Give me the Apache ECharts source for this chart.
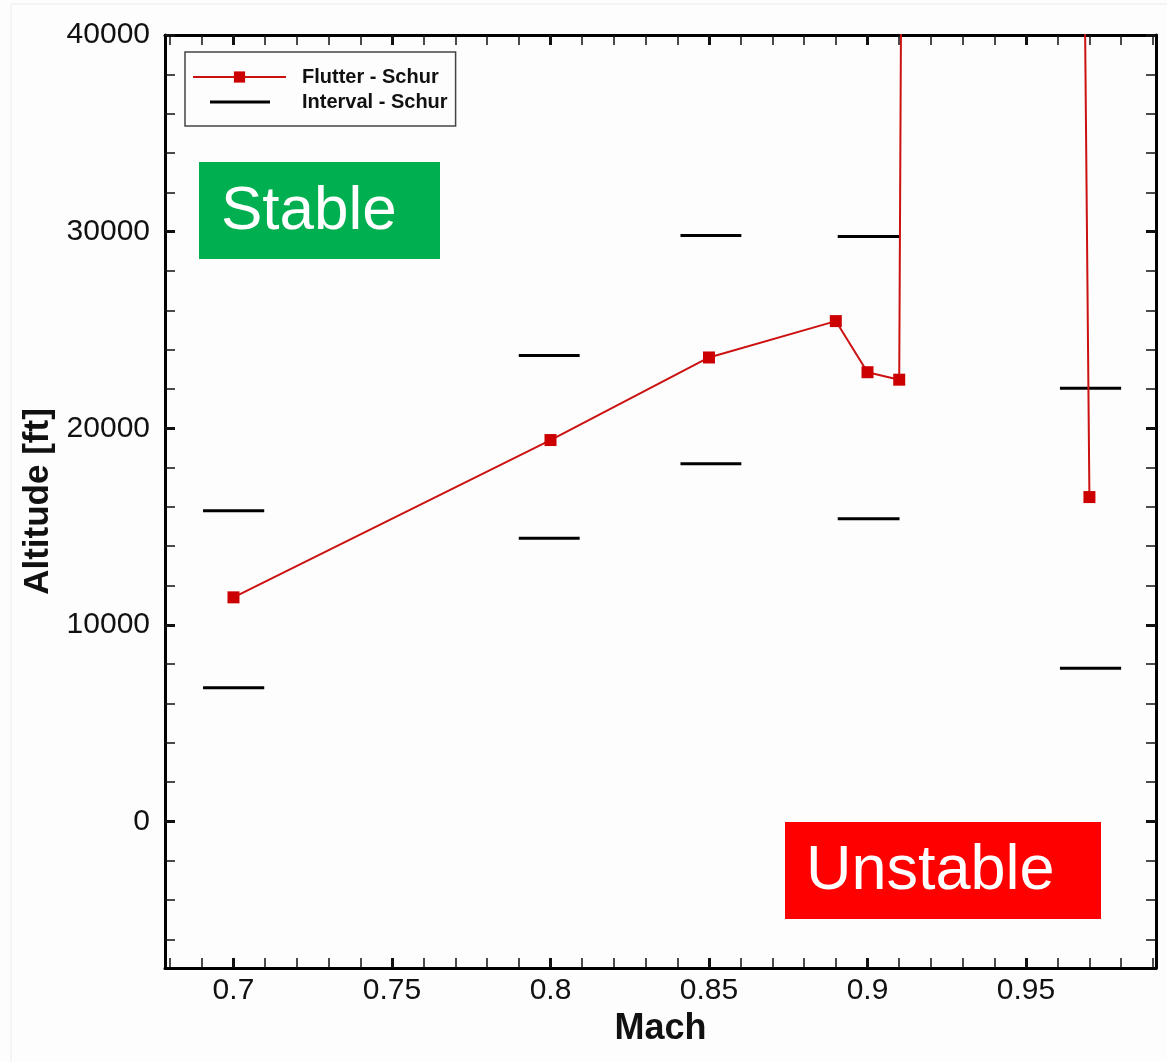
<!DOCTYPE html>
<html>
<head>
<meta charset="utf-8">
<script src="https://cdn.jsdelivr.net/npm/echarts@6/dist/echarts.min.js"></script>
<style>html,body{margin:0;padding:0;background:#fdfdfd;}#c{width:1167px;height:1062px;}</style>
</head>
<body>
<div id="c"></div>
<script>
// ---- data ----
const flutterMach = [0.70, 0.80, 0.85, 0.89, 0.90, 0.91, 0.9124, 0.9652, 0.97];
const flutterAlt  = [11400, 19400, 23600, 25450, 22850, 22470, 100000, 100000, 16500];

const intervalStart = [0.6904, 0.7900, 0.8410, 0.8906, 0.9607];
const intervalEnd   = [0.7097, 0.8092, 0.8602, 0.9101, 0.9800];
const intervalUpper = [15800, 23700, 29800, 29750, 22030];
const intervalLower = [6800, 14400, 18200, 15400, 7800];

const xMajorTicks = [0.7, 0.75, 0.8, 0.85, 0.9, 0.95];
const xMinorTicks = [0.68, 0.69, 0.71, 0.72, 0.73, 0.74, 0.76, 0.77, 0.78, 0.79, 0.81, 0.82, 0.83, 0.84,
                     0.86, 0.87, 0.88, 0.89, 0.91, 0.92, 0.93, 0.94, 0.96, 0.97, 0.98, 0.99];
const yMajorTicks = [0, 10000, 20000, 30000, 40000];
const yMinorTicks = [-6000, -4000, -2000, 2000, 4000, 6000, 8000, 12000, 14000, 16000, 18000,
                     22000, 24000, 26000, 28000, 32000, 34000, 36000, 38000];

const seriesNames = ['Flutter - Schur', 'Interval - Schur'];

// ---- build ----
const flutterData = flutterMach.map((m, i) => [m, flutterAlt[i]]);
const intervalData = [];
intervalStart.forEach((s, i) => {
  intervalData.push([s, intervalUpper[i]], [intervalEnd[i], intervalUpper[i]], [s, '-']);
  intervalData.push([s, intervalLower[i]], [intervalEnd[i], intervalLower[i]], [s, '-']);
});

const X_MIN = 0.6784, X_MAX = 0.991, Y_MIN = -7450, Y_MAX = 40000;
const FONT = 'Liberation Sans, Arial, sans-serif';

function xAx(pos, major, showLine, showLabel) {
  return {
    type: 'value', position: pos, min: X_MIN, max: X_MAX,
    splitLine: { show: false },
    axisLine: { show: showLine, onZero: false, lineStyle: { color: '#000', width: 3 } },
    axisTick: { show: true, inside: true, length: 10, customValues: major ? xMajorTicks : xMinorTicks,
                lineStyle: { color: '#111', width: major ? 3 : 1.5 } },
    axisLabel: { show: showLabel, customValues: xMajorTicks, fontSize: 30, color: '#111', fontFamily: FONT, margin: 8,
                 formatter: v => String(v) },
    name: showLabel ? 'Mach' : '', nameLocation: 'middle', nameGap: 30,
    nameTextStyle: { fontSize: 36, fontWeight: 'bold', color: '#111', fontFamily: FONT }
  };
}
function yAx(pos, major, showLine, showLabel) {
  return {
    type: 'value', position: pos, min: Y_MIN, max: Y_MAX,
    splitLine: { show: false },
    axisLine: { show: showLine, onZero: false, lineStyle: { color: '#000', width: 3 } },
    axisTick: { show: true, inside: true, length: 10, customValues: major ? yMajorTicks : yMinorTicks,
                lineStyle: { color: '#111', width: major ? 3 : 1.5 } },
    axisLabel: { show: showLabel, customValues: yMajorTicks, fontSize: 30, color: '#111', fontFamily: FONT, margin: 15,
                 formatter: v => String(v) },
    name: showLabel ? 'Altitude [ft]' : '', nameLocation: 'middle', nameGap: 108, nameRotate: 90,
    nameTextStyle: { fontSize: 35, fontWeight: 'bold', color: '#111', fontFamily: FONT }
  };
}

const chart = echarts.init(document.getElementById('c'), null, { renderer: 'canvas' });
chart.setOption({
  backgroundColor: '#fdfdfd',
  animation: false,
  grid: { left: 165, top: 35, right: 11, bottom: 94, containLabel: false },
  xAxis: [xAx('bottom', true, true, true), xAx('bottom', false, false, false),
          xAx('top', true, true, false), xAx('top', false, false, false)],
  yAxis: [yAx('left', true, true, true), yAx('left', false, false, false),
          yAx('right', true, true, false), yAx('right', false, false, false)],
  legend: {
    orient: 'vertical', left: 185, top: 52,
    data: [
      { name: seriesNames[0] },
      { name: seriesNames[1], icon: 'path://M0,0 L0,14 L0,0 Z M17,5.5 H77 V8.5 H17 Z M93,0 L93,14 L93,0 Z' }
    ],
    borderColor: '#444', borderWidth: 1.5, borderRadius: 0,
    padding: [15, 8, 14, 7], itemGap: 5, itemWidth: 93, itemHeight: 14,
    textStyle: { fontSize: 20, fontWeight: 'bold', color: '#111', fontFamily: FONT, padding: [0, 0, 0, 11] },
    backgroundColor: 'rgba(0,0,0,0)'
  },
  graphic: [
    { type: 'rect', shape: { x: 11, y: 4, width: 1160, height: 1070 }, style: { fill: 'none', stroke: '#ececec', lineWidth: 1 }, z: -10 },
    { type: 'rect', shape: { x: 199, y: 162, width: 241, height: 97 }, style: { fill: '#00b050' }, z: 1 },
    { type: 'text', x: 221, y: 212, style: { text: 'Stable', fill: '#fff', fontSize: 62, fontFamily: FONT, textVerticalAlign: 'middle' }, z: 2 },
    { type: 'rect', shape: { x: 785, y: 822, width: 316, height: 97 }, style: { fill: '#ff0000' }, z: 1 },
    { type: 'text', x: 806, y: 872, style: { text: 'Unstable', fill: '#fff', fontSize: 63, fontFamily: FONT, textVerticalAlign: 'middle' }, z: 2 }
  ],
  series: [
    {
      name: seriesNames[0], type: 'line', xAxisIndex: 0, yAxisIndex: 0,
      data: flutterData, clip: true,
      symbol: 'rect', symbolSize: 12,
      lineStyle: { color: '#cc1111', width: 2 },
      itemStyle: { color: '#cc0000' },
      z: 5
    },
    {
      name: seriesNames[1], type: 'line', xAxisIndex: 0, yAxisIndex: 0,
      data: intervalData, clip: true, connectNulls: false,
      symbol: 'none', showSymbol: false,
      lineStyle: { color: '#000', width: 3 },
      itemStyle: { color: '#000' },
      z: 4
    }
  ]
});
</script>
</body>
</html>
